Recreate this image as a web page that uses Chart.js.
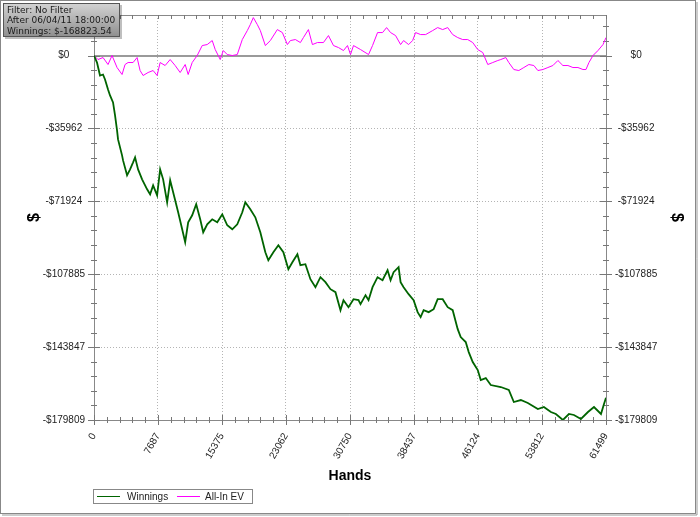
<!DOCTYPE html>
<html>
<head>
<meta charset="utf-8">
<script src="https://cdn.jsdelivr.net/npm/chart.js@4.4.1/dist/chart.umd.min.js"></script>
<style>
  body { margin: 0; background: #fff; }
  canvas { display: block; }
</style>
</head>
<body>
<canvas id="canvas" width="700" height="517"></canvas>
<script>
const xTickValues = [0, 7687, 15375, 23062, 30750, 38437, 46124, 53812, 61499]
const xTickLabels = ['0', '7687', '15375', '23062', '30750', '38437', '46124', '53812', '61499']
const yTickValues = [0, -35962, -71924, -107885, -143847, -179809]
const yTickLabels = ['$0', '-$35962', '-$71924', '-$107885', '-$143847', '-$179809']

const infoLines = ['Filter: No Filter', 'After 06/04/11 18:00:00', 'Winnings: $-168823.54']

// Winnings
const winHands = [0, 361, 722, 1083, 1324, 1685, 1926, 2287, 2527, 2768, 2888, 3370, 3490, 3972, 4333, 4694, 4934, 5295, 5777, 6379,
    6740, 7101, 7582, 7943, 8304, 8786, 9147, 9508, 10109, 10591, 10952, 11313, 11794, 12276, 12757, 13118, 13600, 14201, 14803,
    15405, 16007, 16608, 17210, 17812, 18173, 18775, 19376, 19978, 20580, 20941, 21543, 22144, 22746, 23348, 23829, 24431, 24792,
    25394, 25995, 26597, 27199, 27801, 28403, 29004, 29606, 29967, 30569, 31171, 31772,
    32013, 32615, 32976, 33457, 34059, 34661, 35263, 35624, 35985, 36586, 36827, 37188, 37790, 38392, 38873, 39234, 39595, 40197,
    40799, 41280, 41882, 42484, 43085, 43687, 44048, 44650, 45011, 45492, 46094, 46455, 47057, 47659, 48862, 49825, 50427, 51269,
    52112, 53315, 54037, 54880, 55481, 56324, 57046, 57648, 58490, 59333, 60055, 60897, 61258, 61499]
const winValues = [0, -3448, -9852, -9359, -11822, -16748, -19704, -23152, -29556, -36945, -41378, -49260, -51723, -59112, -56156,
    -52708, -50245, -56156, -61082, -66008, -68471, -64038, -68964, -56156, -61082, -72412, -61575, -67486, -77338, -85712, -92116,
    -82264, -78816, -73397, -80786, -87190, -83249, -80786, -82264,
    -78323, -83742, -85712, -83249, -77338, -72412, -75860, -79801, -87190, -97042, -100983, -97042, -93594, -97042, -105416,
    -101968, -98027, -103446, -102953, -110342, -114283, -109357, -111820, -115268, -116746, -125613, -120687, -124135, -120194,
    -120687,
    -122657, -118224, -120687, -114283, -109357, -110835, -105909, -110835, -106894, -104431, -111820, -114283, -117731, -120687,
    -126598, -129061, -125613, -126598, -125120, -120194, -120194, -124135, -125613, -134972, -138913, -141376, -146302, -151228,
    -155169, -160095, -159110, -162558, -163543, -165021, -170932, -169947, -171425, -174380, -173395, -175858, -176843, -179799,
    -176843, -177336, -179306, -175858, -173395, -176843, -171917, -168823]

// All-In EV
const evHands = [0, 481, 1083, 1685, 2166, 2768, 3370, 3731, 4092, 4694, 5175, 5536, 5897, 6499, 7101, 7582, 7943, 8545, 9147, 9748,
    10350, 10952, 11313, 11794, 12396, 12998, 13600, 14201, 14562, 15164, 15525, 16007, 16608, 17210, 17812, 18414, 18775, 19136,
    19617, 19978, 20580, 21182, 22024, 22626, 23228, 23589, 24190, 24792, 25153, 25755, 26236, 26838, 27560, 28162, 28764, 29365,
    29967, 30449, 30810, 31171, 32013, 32976, 33457, 34059, 34661, 35142, 35624, 36225, 36827, 37188, 37790, 38271, 38632, 39234,
    39836, 40678, 41280, 41882, 42484, 43085, 43687, 44289, 44891, 45492, 46094, 46696, 47298, 47899, 48501, 48862, 49464, 49825,
    50427, 51028, 51630, 52232, 52834, 53315, 53917, 54518, 55120, 55722, 56324, 56926, 57527, 58129, 58731, 59092, 59453, 59934,
    60536, 61138, 61499]
const evValues = [0, -1970, -985, -4433, 0, -5911, -9359, -4433, -3448, -3448, -985, -7389, -9852, -8374, -7389, -9852, -3448, -4926,
    -1970, -4926, -8374, -4433, -9359, -3448, 0, 4926, 5419, 7389, 2956, -1970, 2463, 493, 0, 493, 7882, 12315, 15271, 18719, 15271,
    12315, 4926, 7389, 12808, 11330, 5419, 7389, 7882, 6404, 8867, 12808, 5419, 6404, 6404, 9852, 4926, 3941, 2463, 4926, 493, 4926,
    2956, 493, 4926, 11330, 11330, 13793, 11330, 9852, 5419, 7389, 5419, 7389, 11330, 10345, 10345, 12315, 13793, 12808, 13793,
    10345, 8867, 7882, 7882, 6404, 2956, 1478, -4433, -3448, -2463, -1970, -985, -3448, -6896, -7389, -5911, -4433, -4926, -7389,
    -6896, -5911, -4926, -2463, -4926, -4926, -5911, -5911, -6896, -6896, -3448, 0, 2463, 5419, 8867]

const xMax = 61499
const yMin = -179809
const yMax = 20000

const font = 'Liberation Sans'

const decor = {
    id: 'decor',
    beforeDraw(chart) {
        const c = chart.ctx
        c.save()
        c.fillStyle = '#fff'
        c.fillRect(0, 0, chart.width, chart.height)
        c.restore()
    },
    beforeDatasetsDraw(chart) {
        const c = chart.ctx
        const a = chart.chartArea
        const x = chart.scales.x
        const y = chart.scales.y
        c.save()
        // zero line
        const y0 = Math.round(y.getPixelForValue(0))
        c.strokeStyle = '#9a9a9a'
        c.lineWidth = 2
        c.beginPath()
        c.moveTo(a.left, y0)
        c.lineTo(a.right, y0)
        c.stroke()

        c.strokeStyle = '#888'
        c.lineWidth = 1
        c.strokeRect(Math.round(a.left) + 0.5, Math.round(a.top) + 0.5, Math.round(a.right - a.left), Math.round(a.bottom - a.top))

        // minor / major tick marks
        c.strokeStyle = '#777'
        c.beginPath()
        for (let i = 0; i <= 40; i++) {
            const px = Math.round(x.getPixelForValue(i * xMax / 40)) + 0.5
            const len = i % 5 === 0 ? 5 : 3
            c.moveTo(px, a.bottom - len)
            c.lineTo(px, a.bottom + len)
            c.moveTo(px, a.top)
            c.lineTo(px, a.top + 4)
        }
        for (let i = -2; i <= 25; i++) {
            const py = Math.round(y.getPixelForValue(-i * 179809 / 25)) + 0.5
            const len = i % 5 === 0 ? 6 : 3
            c.moveTo(a.left - len, py)
            c.lineTo(a.left + len, py)
            c.moveTo(a.right - len, py)
            c.lineTo(a.right + len, py)
        }
        c.stroke()
        c.restore()
    },
    afterDraw(chart) {
        const c = chart.ctx
        c.save()
        // info box
        const g = c.createLinearGradient(0, 3, 0, 37)
        g.addColorStop(0, '#d4d4d4')
        g.addColorStop(1, '#8e8e8e')
        c.fillStyle = 'rgba(0,0,0,0.25)'
        c.fillRect(5, 5, 117, 34)
        c.fillStyle = g
        c.fillRect(3, 3, 117, 34)
        c.strokeStyle = '#555'
        c.lineWidth = 1
        c.strokeRect(3.5, 3.5, 116, 33)
        c.fillStyle = '#1a1a1a'
        c.font = '9px "DejaVu Sans"'
        c.textBaseline = 'middle'
        c.textAlign = 'left'
        infoLines.forEach((t, i) => c.fillText(t, 7, 10.5 + i * 10.6))

        // legend
        c.fillStyle = '#fff'
        c.fillRect(93.5, 489.5, 159, 14)
        c.strokeStyle = '#888'
        c.strokeRect(93.5, 489.5, 159, 14)
        c.font = '10px "' + font + '"'
        const items = [[97, 127], [177, 205]]
        chart.data.datasets.forEach((ds, i) => {
            c.strokeStyle = ds.borderColor
            c.lineWidth = 1
            c.beginPath()
            c.moveTo(items[i][0], 496.5)
            c.lineTo(items[i][0] + 23, 496.5)
            c.stroke()
            c.fillStyle = '#222'
            c.fillText(ds.label, items[i][1], 497)
        })

        // outer frame
        c.strokeStyle = '#888'
        c.lineWidth = 1
        c.strokeRect(0.5, 0.5, 695, 513)
        c.strokeStyle = '#999'
        c.beginPath()
        c.moveTo(697, 2)
        c.lineTo(697, 515)
        c.lineTo(2, 515)
        c.stroke()
        c.restore()
    },
}

const yAxisCommon = {
    type: 'linear',
    min: yMin,
    max: yMax,
    afterBuildTicks: (scale) => { scale.ticks = yTickValues.map(v => ({ value: v })) },
    ticks: {
        crossAlign: 'center',
        padding: 9,
        color: '#222',
        font: { family: font, size: 10 },
        callback: (v, i) => yTickLabels[i],
    },
    title: {
        display: true,
        text: '$',
        color: '#000',
        font: { family: font, size: 16, weight: 'bold' },
    },
}

const ctx = document.getElementById('canvas')

new Chart(ctx, {
    type: 'line',
    data: {
        datasets: [
            {
                label: 'Winnings',
                data: winHands.map((h, i) => ({ x: h, y: winValues[i] })),
                borderColor: '#006400',
                borderWidth: 1.8,
                pointRadius: 0,
                yAxisID: 'y',
            },
            {
                label: 'All-In EV',
                data: evHands.map((h, i) => ({ x: h, y: evValues[i] })),
                borderColor: '#ff00ff',
                borderWidth: 1,
                pointRadius: 0,
                yAxisID: 'y',
            },
        ],
    },
    options: {
        responsive: false,
        animation: false,
        layout: { padding: { left: 21, right: 10, top: 12, bottom: 32 } },
        plugins: {
            legend: { display: false },
            tooltip: { enabled: false },
        },
        scales: {
            x: {
                type: 'linear',
                min: 0,
                max: xMax,
                afterBuildTicks: (scale) => { scale.ticks = xTickValues.map(v => ({ value: v })) },
                afterFit: (scale) => { scale.height = 65 },
                ticks: {
                    autoSkip: false,
                    minRotation: 60,
                    maxRotation: 60,
                    padding: 11,
                    color: '#222',
                    font: { family: font, size: 10 },
                    callback: (v, i) => xTickLabels[i],
                },
                grid: { color: '#b4b4b4', drawTicks: false },
                border: { color: '#888', dash: [1, 2] },
                title: {
                    display: true,
                    text: 'Hands',
                    color: '#000',
                    padding: { top: 0, bottom: 0 },
                    font: { family: font, size: 14, weight: 'bold' },
                },
            },
            y: {
                ...yAxisCommon,
                position: 'left',
                afterFit: (scale) => { scale.width = 73 },
                grid: { color: '#b4b4b4', drawTicks: false },
                border: { color: '#888', dash: [1, 2] },
            },
            y2: {
                ...yAxisCommon,
                position: 'right',
                afterFit: (scale) => { scale.width = 84 },
                grid: { drawOnChartArea: false, drawTicks: false },
                border: { color: '#888' },
            },
        },
    },
    plugins: [decor],
});
</script>
</body>
</html>
